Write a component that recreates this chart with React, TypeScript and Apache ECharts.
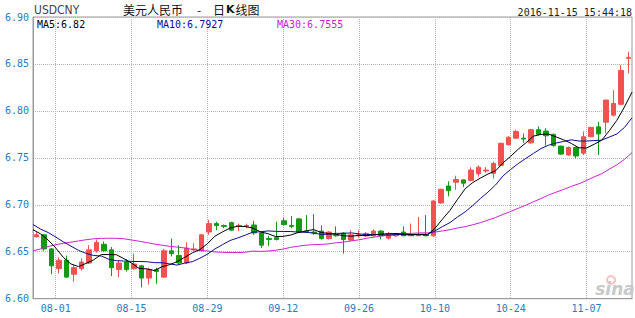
import { useEffect, useRef } from 'react';
import * as echarts from 'echarts';

// ---- data ----
const dates = [
  '07-27', '07-28', '07-29',
  '08-01', '08-02', '08-03', '08-04', '08-05', '08-08', '08-09', '08-10', '08-11', '08-12',
  '08-15', '08-16', '08-17', '08-18', '08-19', '08-22', '08-23', '08-24', '08-25', '08-26',
  '08-29', '08-30', '08-31', '09-01', '09-02', '09-05', '09-06', '09-07', '09-08', '09-09',
  '09-12', '09-13', '09-14', '09-15', '09-16', '09-19', '09-20', '09-21', '09-22', '09-23',
  '09-26', '09-27', '09-28', '09-29', '09-30', '10-03', '10-04', '10-05', '10-06', '10-07',
  '10-10', '10-11', '10-12', '10-13', '10-14', '10-17', '10-18', '10-19', '10-20', '10-21',
  '10-24', '10-25', '10-26', '10-27', '10-28', '10-31', '11-01', '11-02', '11-03', '11-04',
  '11-07', '11-08', '11-09', '11-10', '11-11', '11-14', '11-15',
];

const opens = [
  6.666, 6.668, 6.653, 6.632, 6.641, 6.626, 6.632, 6.638, 6.651, 6.658,
  6.652, 6.631, 6.639, 6.632, 6.635, 6.622, 6.631, 6.623, 6.651, 6.646,
  6.638, 6.652, 6.651, 6.671, 6.680, 6.678, 6.681, 6.677, 6.677, 6.6785,
  6.670, 6.664, 6.665, 6.683, 6.678, 6.685, 6.672, 6.671, 6.672, 6.664,
  6.668, 6.670, 6.6625, 6.667, 6.667, 6.667, 6.672, 6.6645, 6.667, 6.671,
  6.667, 6.667, 6.668, 6.667, 6.702, 6.720, 6.724, 6.7265, 6.726, 6.733,
  6.736, 6.7335, 6.742, 6.764, 6.771, 6.771, 6.766, 6.780, 6.7785, 6.775,
  6.7625, 6.753, 6.761, 6.755, 6.7725, 6.783, 6.788, 6.7955, 6.807, 6.856,
];
const closes = [
  6.668, 6.653, 6.635, 6.641, 6.623, 6.633, 6.639, 6.652, 6.660, 6.651,
  6.633, 6.638, 6.631, 6.637, 6.622, 6.631, 6.629, 6.651, 6.648, 6.638,
  6.654, 6.653, 6.668, 6.680, 6.678, 6.677, 6.673, 6.678, 6.678, 6.670,
  6.657, 6.663, 6.663, 6.679, 6.677, 6.671, 6.671, 6.670, 6.664, 6.671,
  6.667, 6.663, 6.668, 6.668, 6.6695, 6.672, 6.667, 6.6695, 6.669, 6.667,
  6.668, 6.668, 6.667, 6.704, 6.7165, 6.715, 6.727, 6.723, 6.737, 6.740,
  6.737, 6.744, 6.7655, 6.772, 6.778, 6.770, 6.780, 6.775, 6.7735, 6.763,
  6.754, 6.761, 6.752, 6.7725, 6.7825, 6.7755, 6.8115, 6.808, 6.843, 6.857,
];
const lows = [
  6.665, 6.651, 6.626, 6.627, 6.622, 6.618, 6.630, 6.637, 6.649, 6.650,
  6.624, 6.623, 6.629, 6.631, 6.612, 6.615, 6.616, 6.622, 6.645, 6.636,
  6.637, 6.651, 6.650, 6.668, 6.673, 6.675, 6.672, 6.672, 6.675, 6.668,
  6.654, 6.656, 6.662, 6.678, 6.675, 6.670, 6.670, 6.668, 6.663, 6.663,
  6.666, 6.648, 6.661, 6.665, 6.666, 6.666, 6.663, 6.663, 6.666, 6.667,
  6.667, 6.667, 6.667, 6.666, 6.701, 6.709, 6.716, 6.719, 6.725, 6.730,
  6.734, 6.728, 6.741, 6.763, 6.770, 6.766, 6.765, 6.774, 6.763, 6.762,
  6.753, 6.752, 6.7495, 6.753, 6.772, 6.753, 6.776, 6.794, 6.806, 6.840,
];
const highs = [
  6.671, 6.669, 6.654, 6.644, 6.646, 6.636, 6.643, 6.657, 6.663, 6.661,
  6.655, 6.641, 6.642, 6.648, 6.636, 6.633, 6.633, 6.653, 6.664, 6.657,
  6.660, 6.659, 6.669, 6.684, 6.682, 6.679, 6.682, 6.680, 6.680, 6.683,
  6.671, 6.667, 6.682, 6.686, 6.688, 6.686, 6.689, 6.690, 6.678, 6.672,
  6.677, 6.671, 6.673, 6.673, 6.671, 6.674, 6.673, 6.671, 6.670, 6.677,
  6.680, 6.687, 6.689, 6.705, 6.717, 6.725, 6.731, 6.727, 6.740, 6.742,
  6.740, 6.746, 6.766, 6.773, 6.780, 6.776, 6.781, 6.7835, 6.7815, 6.776,
  6.763, 6.762, 6.762, 6.778, 6.783, 6.7885, 6.812, 6.822, 6.849, 6.863,
];

const ma5 = [
  6.6735, 6.669, 6.6625, 6.654, 6.644, 6.637, 6.6342, 6.6376, 6.6414, 6.647,
  6.647, 6.6468, 6.6426, 6.638, 6.6322, 6.6318, 6.630, 6.634, 6.6362, 6.6394,
  6.644, 6.6488, 6.6522, 6.6586, 6.6666, 6.6712, 6.6752, 6.6772, 6.6768, 6.6752,
  6.6712, 6.6692, 6.6662, 6.6664, 6.6678, 6.6706, 6.6722, 6.6736, 6.6706, 6.6694,
  6.6686, 6.667, 6.6666, 6.6674, 6.6671, 6.6681, 6.6689, 6.6692, 6.6694, 6.6689,
  6.6681, 6.6683, 6.6678, 6.6748, 6.6847, 6.6941, 6.7059, 6.7171, 6.7237, 6.7284,
  6.7328, 6.7362, 6.7447, 6.7517, 6.7593, 6.7659, 6.7731, 6.775, 6.7753, 6.7723,
  6.7691, 6.7653, 6.7607, 6.7605, 6.7644, 6.7687, 6.7788, 6.79, 6.8041, 6.82,
];
const ma10 = [
  6.679, 6.6741, 6.6705, 6.6657, 6.6605, 6.656, 6.6515, 6.6483, 6.646, 6.6455,
  6.642, 6.6405, 6.6401, 6.6397, 6.6396, 6.6394, 6.6384, 6.6383, 6.6371, 6.6358,
  6.6379, 6.6394, 6.6431, 6.6474, 6.653, 6.6576, 6.662, 6.6647, 6.6677, 6.6709,
  6.6712, 6.6722, 6.6717, 6.6716, 6.6715, 6.6709, 6.6707, 6.6699, 6.6685, 6.6686,
  6.6696, 6.6696, 6.6701, 6.669, 6.6683, 6.6684, 6.668, 6.6679, 6.6684, 6.668,
  6.6681, 6.6686, 6.6685, 6.6721, 6.6768, 6.6811, 6.6871, 6.6925, 6.6993, 6.7066,
  6.7135, 6.7211, 6.7309, 6.7377, 6.7439, 6.7494, 6.7547, 6.7599, 6.7635, 6.7658,
  6.7675, 6.7692, 6.7679, 6.7679, 6.7684, 6.7689, 6.7721, 6.7754, 6.7823, 6.7927,
];
const ma30 = [
  6.651, 6.653, 6.6555, 6.6575, 6.659, 6.6602, 6.6615, 6.6628, 6.6638, 6.6642,
  6.6644, 6.6643, 6.6638, 6.6625, 6.6612, 6.6598, 6.6582, 6.657, 6.6558, 6.655,
  6.654, 6.6525, 6.6515, 6.6508, 6.6498, 6.6494, 6.6492, 6.6491, 6.6495, 6.6507,
  6.6504, 6.6507, 6.6516, 6.6529, 6.6547, 6.656, 6.657, 6.6576, 6.6578, 6.6584,
  6.6596, 6.6604, 6.6616, 6.6627, 6.6643, 6.6656, 6.6669, 6.6675, 6.6682, 6.6692,
  6.6696, 6.6701, 6.6701, 6.6709, 6.6722, 6.6735, 6.6753, 6.6768, 6.6787, 6.681,
  6.6837, 6.6864, 6.6898, 6.6929, 6.6963, 6.6996, 6.7032, 6.7067, 6.7104, 6.7135,
  6.7164, 6.7196, 6.7224, 6.7259, 6.7297, 6.7331, 6.7379, 6.7426, 6.7484, 6.7555,
];

const xTickLabels = ['08-01', '08-15', '08-29', '09-12', '09-26', '10-10', '10-24', '11-07'];
const yMin = 6.6;
const yMax = 6.9;
const yStep = 0.05;

const symbolName = 'USDCNY';
const titleMain = '美元人民币';
const titleSub = ['日', 'K', '线图'];
const timestamp = '2016-11-15 15:44:18';

const UP = '#f05252';
const DOWN = '#139a13';
const AXIS_TEXT = '#2b7bb9';
const MONO = '"DejaVu Sans Mono", monospace';
const CJK = '"Noto Sans CJK SC", sans-serif';

export default function App() {
  const ref = useRef<HTMLDivElement>(null);

  useEffect(() => {
    if (!ref.current) return;
    const chart = echarts.init(ref.current, null, { renderer: 'svg' });

    const tickIdx = xTickLabels.map((d) => dates.indexOf(d));
    const kData = dates.map((_, i) => [opens[i], closes[i], lows[i], highs[i]]);
    const toPts = (arr: number[]) => arr.map((v, i) => [i, v]);
    const last = (arr: number[]) => arr[arr.length - 1];

    chart.setOption({
      animation: false,
      backgroundColor: '#fff',
      grid: {
        left: 33,
        top: 17,
        width: 599,
        height: 281.7,
        show: true,
        borderColor: '#9a9a9a',
        borderWidth: 1,
        backgroundColor: 'transparent',
      },
      xAxis: [
        {
          type: 'category',
          data: dates,
          boundaryGap: true,
          show: false,
        },
        {
          type: 'value',
          min: 0,
          max: dates.length - 1,
          position: 'bottom',
          axisLine: { show: true, lineStyle: { color: '#9a9a9a' } },
          axisTick: { show: false, customValues: tickIdx },
          axisLabel: {
            customValues: tickIdx,
            formatter: (v: number) => dates[Math.round(v)],
            color: AXIS_TEXT,
            fontFamily: MONO,
            fontSize: 10,
            margin: 5,
          },
          splitLine: {
            show: true,
            lineStyle: { color: '#b4b4b4', type: [1, 1], width: 1 },
          },
        },
      ],
      yAxis: {
        type: 'value',
        min: yMin,
        max: yMax,
        interval: yStep,
        axisLine: { show: true, lineStyle: { color: '#9a9a9a' } },
        axisTick: { show: false },
        axisLabel: {
          formatter: (v: number) => v.toFixed(2),
          color: AXIS_TEXT,
          fontFamily: MONO,
          fontSize: 10,
          margin: 4,
        },
        splitLine: {
          show: true,
          lineStyle: { color: '#b4b4b4', type: [1, 1], width: 1 },
        },
      },
      series: [
        {
          type: 'candlestick',
          xAxisIndex: 0,
          data: kData,
          barWidth: 5,
          itemStyle: {
            color: UP,
            color0: DOWN,
            borderColor: UP,
            borderColor0: DOWN,
            borderWidth: 1,
          },
          z: 2,
        },
        {
          type: 'line',
          name: 'MA30',
          xAxisIndex: 1,
          data: toPts(ma30),
          symbol: 'none',
          lineStyle: { color: '#cc22cc', width: 1 },
          z: 3,
        },
        {
          type: 'line',
          name: 'MA10',
          xAxisIndex: 1,
          data: toPts(ma10),
          symbol: 'none',
          lineStyle: { color: '#0c0c92', width: 1 },
          z: 4,
        },
        {
          type: 'line',
          name: 'MA5',
          xAxisIndex: 1,
          data: toPts(ma5),
          symbol: 'none',
          lineStyle: { color: '#000000', width: 1 },
          z: 5,
        },
      ],
      graphic: [
        {
          type: 'text',
          x: 34,
          y: 10,
          style: {
            text: symbolName,
            font: '12px "Liberation Sans Narrow", "DejaVu Sans Condensed", sans-serif',
            fill: '#444',
            verticalAlign: 'middle',
          },
        },
        {
          type: 'text',
          x: 123,
          y: 9,
          style: {
            text: titleMain,
            font: '12px ' + CJK,
            fill: '#111',
            verticalAlign: 'middle',
          },
        },
        {
          type: 'text',
          x: 199,
          y: 9,
          style: {
            text: '-',
            font: '12px ' + CJK,
            fill: '#111',
            align: 'center',
            verticalAlign: 'middle',
          },
        },
        {
          type: 'text',
          x: 213,
          y: 9,
          style: {
            text: titleSub[0] + '{k|' + titleSub[1] + '}' + titleSub[2],
            font: '12px ' + CJK,
            fill: '#111',
            verticalAlign: 'middle',
            rich: {
              k: {
                fontFamily: '"DejaVu Sans", sans-serif',
                fontWeight: 'bold',
                fontSize: 11,
                fill: '#111',
                padding: [0, 1, 0, 1],
              },
            },
          },
        },
        {
          type: 'text',
          x: 632,
          y: 12,
          style: {
            text: timestamp,
            font: '10px ' + MONO,
            fill: '#222',
            align: 'right',
            verticalAlign: 'middle',
          },
        },
        {
          type: 'text',
          x: 37,
          y: 24,
          z: 10,
          style: {
            text: 'MA5:' + String(last(ma5)),
            font: '10px ' + MONO,
            fill: '#000',
            verticalAlign: 'middle',
          },
        },
        {
          type: 'text',
          x: 157,
          y: 24,
          z: 10,
          style: {
            text: 'MA10:' + String(last(ma10)),
            font: '10px ' + MONO,
            fill: '#0c0c92',
            verticalAlign: 'middle',
          },
        },
        {
          type: 'text',
          x: 277,
          y: 24,
          z: 10,
          style: {
            text: 'MA30:' + String(last(ma30)),
            font: '10px ' + MONO,
            fill: '#cc22cc',
            verticalAlign: 'middle',
          },
        },
        {
          type: 'ring',
          shape: { cx: 611, cy: 280, r: 5, r0: 3 },
          style: { fill: '#f4c4c4' },
          z: 1,
        },
        {
          type: 'text',
          x: 615,
          y: 289,
          z: 1,
          style: {
            text: 'sina',
            font: 'italic bold 17px "DejaVu Sans", sans-serif',
            fill: '#c9c9c9',
            align: 'center',
            verticalAlign: 'middle',
          },
        },
      ],
    });

    return () => chart.dispose();
  }, []);

  return (
    <div
      ref={ref}
      style={{ position: 'fixed', left: 0, top: 0, width: 635, height: 318 }}
    />
  );
}
